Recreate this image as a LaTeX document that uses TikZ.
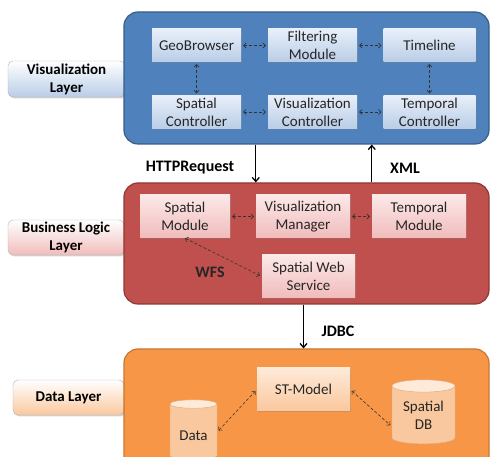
\documentclass[tikz,border=0pt]{standalone}
\usepackage{fontspec}
\setmainfont{Carlito}
\usetikzlibrary{shapes.geometric}
\usetikzlibrary{shadows}
\usetikzlibrary{arrows.meta}
\definecolor{visFill}{RGB}{79,129,189}
\definecolor{visLine}{RGB}{56,93,138}
\definecolor{visTop}{RGB}{232,239,249}
\definecolor{visBot}{RGB}{185,205,231}
\definecolor{bizFill}{RGB}{192,80,77}
\definecolor{bizLine}{RGB}{140,56,54}
\definecolor{bizTop}{RGB}{252,232,232}
\definecolor{bizBot}{RGB}{240,188,187}
\definecolor{datFill}{RGB}{247,150,70}
\definecolor{datLine}{RGB}{200,118,50}
\definecolor{datTop}{RGB}{254,234,216}
\definecolor{datBot}{RGB}{250,200,158}
\tikzstyle{arch}=[x=1pt, y=-1pt, font=\fontsize{15}{18}\selectfont]
\tikzstyle{layer}=[rectangle, rounded corners=14pt, line width=1.2pt, inner sep=0pt, minimum width=365pt]
\tikzstyle{tag}=[rectangle, rounded corners=5pt, draw=black!30, align=center, inner sep=0pt, font=\fontsize{15}{18}\selectfont\bfseries, drop shadow={shadow xshift=1.5pt, shadow yshift=-1.5pt, opacity=0.35}]
\tikzstyle{mod}=[rectangle, align=center, inner sep=0pt, text=black!85, minimum height=33pt, drop shadow={shadow xshift=1.2pt, shadow yshift=-1.2pt, opacity=0.3}]
\tikzstyle{db}=[cylinder, shape border rotate=90, aspect=0.3, draw=datLine!60, align=center, inner sep=0pt, text=black!85, cylinder uses custom fill, cylinder body fill=datBot, cylinder end fill=datTop]
\tikzstyle{link}=[<->, densely dashed, semithick, black!80, >={Straight Barb[length=2.5pt,width=5pt]}, shorten >=2pt, shorten <=2pt]
\tikzstyle{flow}=[->, line width=1.3pt, >={Straight Barb[length=4pt,width=7pt]}]
\tikzstyle{lbl}=[font=\fontsize{16}{18}\selectfont\bfseries]
\begin{document}
\begin{tikzpicture}[arch]
	\clip (0,0) rectangle (491,457);
	%% layer tags
	\draw (66.5,79) node[tag, top color=white, bottom color=visBot, minimum width=117pt, minimum height=36pt] (vistag) {Visualization\\Layer};
	\draw (66,237.5) node[tag, top color=white, bottom color=bizBot, minimum width=116pt, minimum height=35pt] (biztag) {Business Logic\\Layer};
	\draw (68.5,397.5) node[tag, top color=white, bottom color=datBot, minimum width=111pt, minimum height=35pt] (dattag) {Data Layer};
	%% layers
	\draw (306.5,78) node[layer, fill=visFill, draw=visLine, minimum height=132pt] (vislay) {};
	\draw (306.5,243.5) node[layer, fill=bizFill, draw=bizLine, minimum height=121pt] (bizlay) {};
	\draw (306.5,409.5) node[layer, fill=datFill, draw=datLine, minimum height=121pt] (datlay) {};
	%%%%%% visualization layer
	\draw (196.5,45.5) node[mod, top color=visTop, bottom color=visBot, minimum width=89pt] (geo) {GeoBrowser};
	\draw (312.5,45.5) node[mod, top color=visTop, bottom color=visBot, minimum width=89pt] (filt) {Filtering\\Module};
	\draw (429.5,45.5) node[mod, top color=visTop, bottom color=visBot, minimum width=92pt] (time) {Timeline};
	\draw (196.5,112) node[mod, top color=visTop, bottom color=visBot, minimum width=89pt] (sctl) {Spatial\\Controller};
	\draw (312.5,112) node[mod, top color=visTop, bottom color=visBot, minimum width=89pt] (vctl) {Visualization\\Controller};
	\draw (429.5,112) node[mod, top color=visTop, bottom color=visBot, minimum width=92pt] (tctl) {Temporal\\Controller};
	%%
	\draw[link] (geo) -- (filt);
	\draw[link] (filt) -- (time);
	\draw[link] (geo) -- (sctl);
	\draw[link] (time) -- (tctl);
	\draw[link] (sctl) -- (vctl);
	\draw[link] (vctl) -- (tctl);
	%%%%%% business logic layer
	\draw (185,216.5) node[mod, top color=bizTop, bottom color=bizBot, minimum width=90pt, minimum height=43pt] (smod) {Spatial\\Module};
	\draw (303,216.5) node[mod, top color=bizTop, bottom color=bizBot, minimum width=94pt, minimum height=43pt] (vmgr) {Visualization\\Manager};
	\draw (419,216.5) node[mod, top color=bizTop, bottom color=bizBot, minimum width=94pt, minimum height=43pt] (tmod) {Temporal\\Module};
	\draw (308.5,276.5) node[mod, top color=bizTop, bottom color=bizBot, minimum width=93pt, minimum height=43pt] (sws) {Spatial Web\\Service};
	\node[lbl, text=black!85] (wfs) at (210,272) {WFS};
	%%
	\draw[link] (smod) -- (vmgr);
	\draw[link] (vmgr) -- (tmod);
	\draw[link, shorten <=0pt] (smod.south) -- (sws.west);
	%%%%%% data layer
	\draw (303.5,389.5) node[mod, top color=datTop, bottom color=datBot, minimum width=93pt, minimum height=43pt] (stm) {ST-Model};
	\draw (193.5,432) node[db, minimum width=47pt, minimum height=60pt] (data) {\\Data};
	\draw (423.5,415) node[db, minimum width=63pt, minimum height=64pt] (sdb) {Spatial\\DB};
	%%
	\draw[link] (data.east) -- (stm.west);
	\draw[link] (stm.east) -- (sdb.200);
	%%%%%% between layers
	\draw[flow] (vislay.south -| vmgr.west) -- (bizlay.north -| vmgr.west);
	\draw[flow] (bizlay.north -| tmod.west) -- (vislay.south -| tmod.west);
	\draw[flow] (bizlay.south -| stm) -- (datlay.north -| stm);
	\node[lbl] (http) at (190,168) {HTTPRequest};
	\node[lbl] (xml) at (405,168) {XML};
	\node[lbl] (jdbc) at (338,331) {JDBC};
\end{tikzpicture}
\end{document}
